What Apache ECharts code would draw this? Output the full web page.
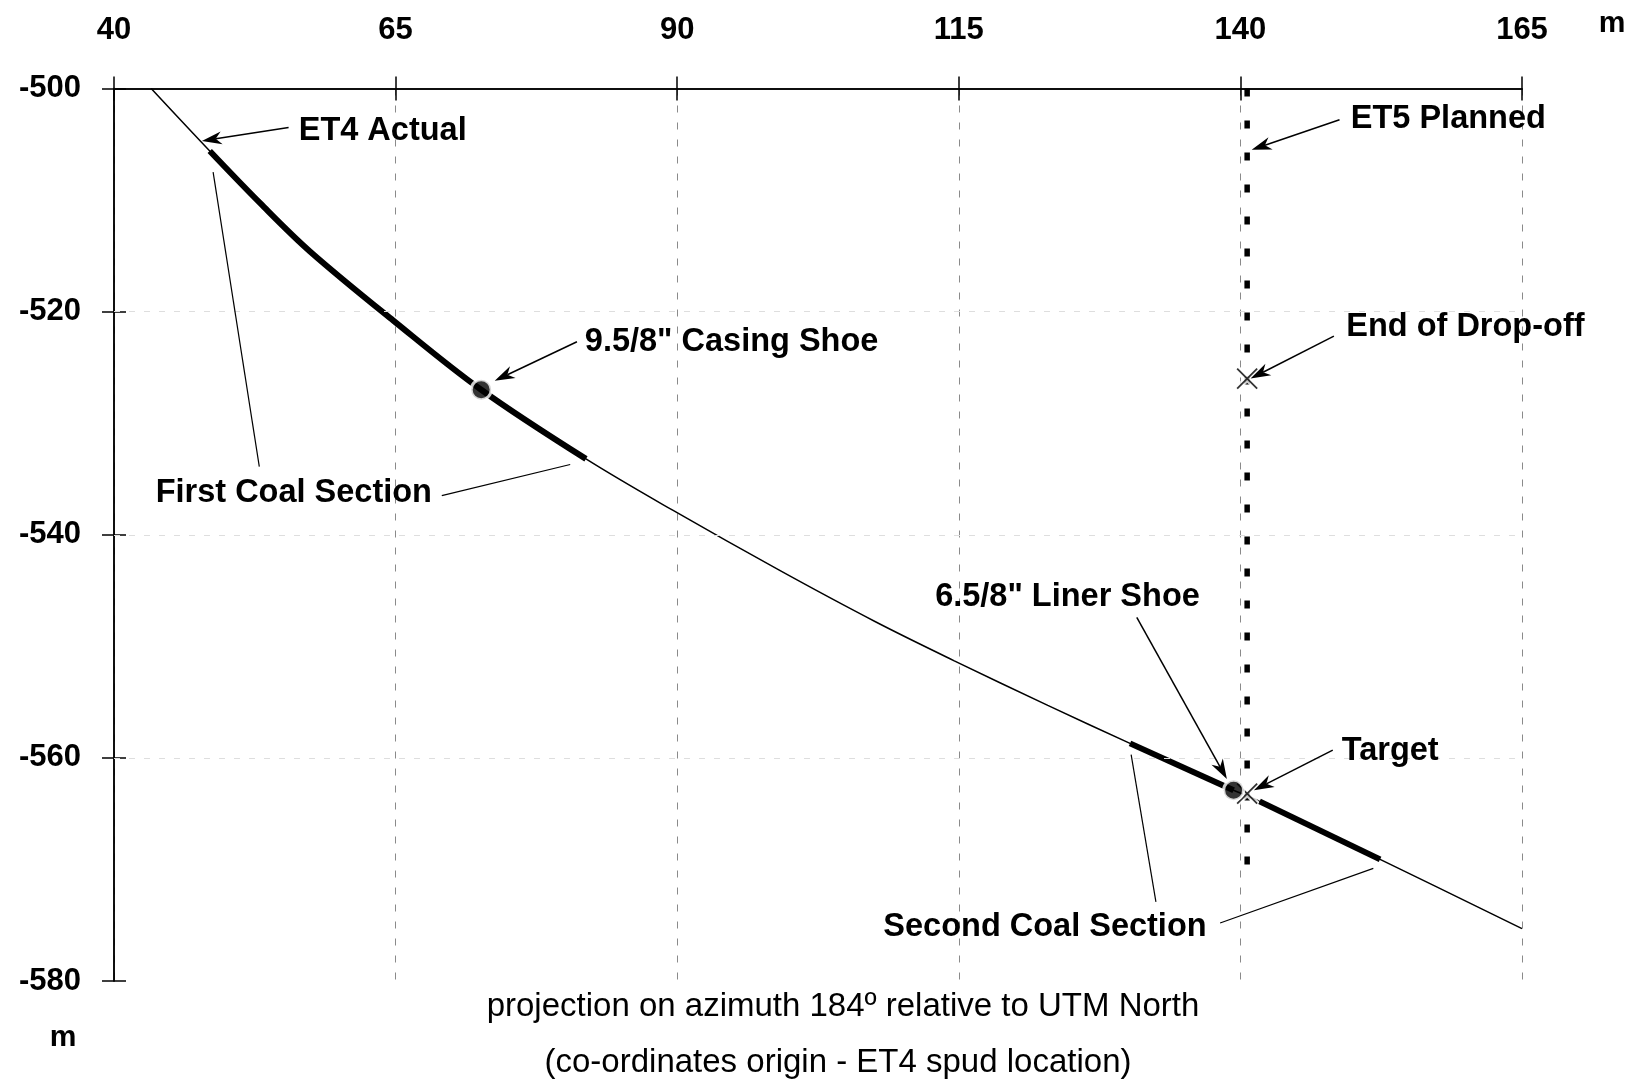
<!DOCTYPE html>
<html><head><meta charset="utf-8">
<script src="https://cdn.jsdelivr.net/npm/echarts@6/dist/echarts.min.js"></script>
<style>html,body{margin:0;padding:0;background:#fff}#c{width:1636px;height:1087px}</style>
</head><body><div id="c"></div>
<script>
// ---- data ----
const xTicks = [40, 65, 90, 115, 140, 165];
const yTicks = [-500, -520, -540, -560, -580];
const hGrid = [-520, -540, -560];
const et4X = [43.3, 48.5, 53.0, 57.4, 64.8, 72.6, 81.9, 89.6, 99.1, 107.6, 114.6, 122.9, 130.2, 139.4, 141.7, 152.4, 165.0];
const et4Y = [-500.0, -505.6, -510.3, -514.6, -520.8, -527.0, -533.2, -537.8, -543.2, -547.8, -551.3, -555.3, -558.7, -562.9, -563.9, -569.1, -575.3];
const firstCoal = [48.5, 81.9];
const secondCoalA = [130.2, 139.4];
const secondCoalB = [141.7, 152.4];
const shoeX = [72.6, 139.4];
const shoeY = [-527.0, -562.9];
const crossX = [140.6, 140.6];
const crossY = [-526.0, -563.2];
const et5X = [140.6, 140.6];
const et5Y = [-500.0, -570.3];

const FONT = '"Liberation Sans", Arial, sans-serif';
const pts = et4X.map((x, i) => [x, et4Y[i]]);
const sect = r => pts.filter(p => p[0] >= r[0] - 1e-9 && p[0] <= r[1] + 1e-9);
const SMOOTH = 0.35;

const chart = echarts.init(document.getElementById('c'));
const axisCommon = {
  type: 'value', min: 40, max: 165, interval: 25,
  axisLine: { show: true, lineStyle: { color: '#000', width: 1.5 } },
};
const yCommon = {
  type: 'value', min: -580, max: -500, interval: 20,
  axisLine: { show: true, lineStyle: { color: '#000', width: 1.5 } },
};
const thickStyle = { color: '#000', width: 6, cap: 'butt' };
chart.setOption({
  animation: false,
  backgroundColor: '#fff',
  grid: { left: 114, right: 114, top: 88.5, bottom: 106 },
  xAxis: [
    Object.assign({}, axisCommon, {
      position: 'top',
      axisTick: { show: true, inside: false, length: 12, lineStyle: { color: '#000', width: 1.5 } },
      axisLabel: { show: true, margin: 43, fontFamily: FONT, fontWeight: 'bold', fontSize: 31, color: '#000',
        formatter: v => String(v) },
      splitLine: { show: true, lineStyle: { color: '#8a8a8a', width: 1, type: [7, 10] } }
    }),
    Object.assign({}, axisCommon, {
      position: 'top',
      axisTick: { show: true, inside: true, length: 12, lineStyle: { color: '#000', width: 1.5 } },
      axisLabel: { show: false }, splitLine: { show: false }
    })
  ],
  yAxis: [
    Object.assign({}, yCommon, {
      position: 'left',
      axisTick: { show: true, inside: false, length: 12, lineStyle: { color: '#000', width: 1.5 } },
      axisLabel: { show: true, margin: 33, fontFamily: FONT, fontWeight: 'bold', fontSize: 31, color: '#000' },
      splitLine: { show: false }
    }),
    Object.assign({}, yCommon, {
      position: 'left',
      axisTick: { show: true, inside: true, length: 12, lineStyle: { color: '#000', width: 1.5 } },
      axisLabel: { show: false }, splitLine: { show: false }
    })
  ],
  series: [
    { name: 'ET4 Actual', type: 'line', data: pts, smooth: SMOOTH, symbol: 'none',
      lineStyle: { color: '#000', width: 1.5 }, z: 2,
      markLine: { silent: true, symbol: 'none', label: { show: false },
        lineStyle: { color: '#dedede', width: 1, type: [6, 9] },
        data: hGrid.map(v => ({ yAxis: v })) } },
    { name: 'First Coal Section', type: 'line', data: sect(firstCoal), smooth: SMOOTH,
      symbol: 'none', lineStyle: thickStyle, z: 3 },
    { name: 'Second Coal Section A', type: 'line', data: sect(secondCoalA), smooth: SMOOTH, symbol: 'none', lineStyle: thickStyle, z: 3 },
    { name: 'Second Coal Section B', type: 'line', data: sect(secondCoalB), smooth: SMOOTH, symbol: 'none', lineStyle: thickStyle, z: 3 },
    { name: 'ET5 Planned', type: 'line', data: et5X.map((x, i) => [x, et5Y[i]]), symbol: 'none',
      lineStyle: { color: '#000', width: 5.5, type: [8, 24], cap: 'butt' }, z: 4 },
    { name: 'cross halo', type: 'scatter', data: crossX.map((x, i) => [x, crossY[i]]),
      symbol: 'path://M0,0L10,10M10,0L0,10', symbolSize: 20,
      itemStyle: { color: 'rgba(0,0,0,0)', borderColor: '#fff', borderWidth: 6 }, z: 5 },
    { name: 'cross', type: 'scatter', data: crossX.map((x, i) => [x, crossY[i]]),
      symbol: 'path://M0,0L10,10M10,0L0,10', symbolSize: 20,
      itemStyle: { color: 'rgba(0,0,0,0)', borderColor: '#000', borderWidth: 1.8 }, z: 6 },
    { name: 'shoes', type: 'scatter', data: shoeX.map((x, i) => [x, shoeY[i]]),
      symbol: 'circle', symbolSize: 20,
      itemStyle: { color: '#000', borderColor: '#fff', borderWidth: 3 }, z: 7 }
  ]
});

// ---- annotations (layout in data units) ----
const texts = [
  { t: 'ET4 Actual', at: [56.4, -503.8], align: 'left' },
  { t: 'First Coal Section', at: [43.7, -536.3], align: 'left' },
  { t: '9.5/8" Casing Shoe', at: [81.8, -522.7], align: 'left' },
  { t: '6.5/8" Liner Shoe', at: [112.9, -545.6], align: 'left' },
  { t: 'Target', at: [149.0, -559.4], align: 'left' },
  { t: 'Second Coal Section', at: [137.0, -575.2], align: 'right' },
  { t: 'ET5 Planned', at: [149.8, -502.7], align: 'left' },
  { t: 'End of Drop-off', at: [149.4, -521.4], align: 'left' }
];
const arrows = [
  [[55.5, -503.5], [47.8, -504.7]],
  [[81.1, -522.7], [73.8, -526.2]],
  [[130.8, -547.4], [138.8, -561.9]],
  [[148.2, -559.3], [141.2, -562.9]],
  [[148.8, -502.8], [141.0, -505.5]],
  [[148.3, -522.2], [140.9, -526.0]]
];
const leaders = [
  [[52.9, -533.9], [48.8, -507.5]],
  [[69.1, -536.5], [80.5, -533.7]],
  [[132.5, -572.9], [130.3, -559.7]],
  [[138.2, -574.8], [151.8, -569.9]]
];

function px(p) { return chart.convertToPixel({ gridIndex: 0 }, p); }
const g = [];
texts.forEach(o => {
  const p = px(o.at);
  g.push({ type: 'text', x: p[0], y: p[1], z: 20,
    style: { text: o.t, font: 'bold 32.5px ' + FONT, fill: '#000', align: o.align, verticalAlign: 'middle' } });
});
leaders.forEach(l => {
  const a = px(l[0]), b = px(l[1]);
  g.push({ type: 'line', z: 20, shape: { x1: a[0], y1: a[1], x2: b[0], y2: b[1] }, style: { stroke: '#000', lineWidth: 1.2 } });
});
arrows.forEach(l => {
  const a = px(l[0]), b = px(l[1]);
  const dx = b[0] - a[0], dy = b[1] - a[1], len = Math.hypot(dx, dy);
  const ux = dx / len, uy = dy / len, nx = -uy, ny = ux;
  const L = 20, W = 6.5;
  const bx = b[0] - ux * L, by = b[1] - uy * L;
  const mx = b[0] - ux * L * 0.7, my = b[1] - uy * L * 0.7;
  g.push({ type: 'line', z: 20, shape: { x1: a[0], y1: a[1], x2: mx, y2: my }, style: { stroke: '#000', lineWidth: 1.5 } });
  g.push({ type: 'polygon', z: 21, shape: { points: [[b[0], b[1]], [bx + nx * W, by + ny * W], [mx, my], [bx - nx * W, by - ny * W]] },
    style: { fill: '#000' } });
});
g.push({ type: 'text', x: 1612, y: 24, z: 20, style: { text: 'm', font: 'bold 30px ' + FONT, fill: '#000', align: 'center', verticalAlign: 'middle' } });
g.push({ type: 'text', x: 63, y: 1038, z: 20, style: { text: 'm', font: 'bold 30px ' + FONT, fill: '#000', align: 'center', verticalAlign: 'middle' } });
g.push({ type: 'text', x: 843, y: 1007, z: 20, style: { text: 'projection on azimuth 184º relative to UTM North', font: '33px ' + FONT, fill: '#000', align: 'center', verticalAlign: 'middle' } });
g.push({ type: 'text', x: 838, y: 1063, z: 20, style: { text: '(co-ordinates origin - ET4 spud location)', font: '33px ' + FONT, fill: '#000', align: 'center', verticalAlign: 'middle' } });
chart.setOption({ graphic: g });
</script>
</body></html>
